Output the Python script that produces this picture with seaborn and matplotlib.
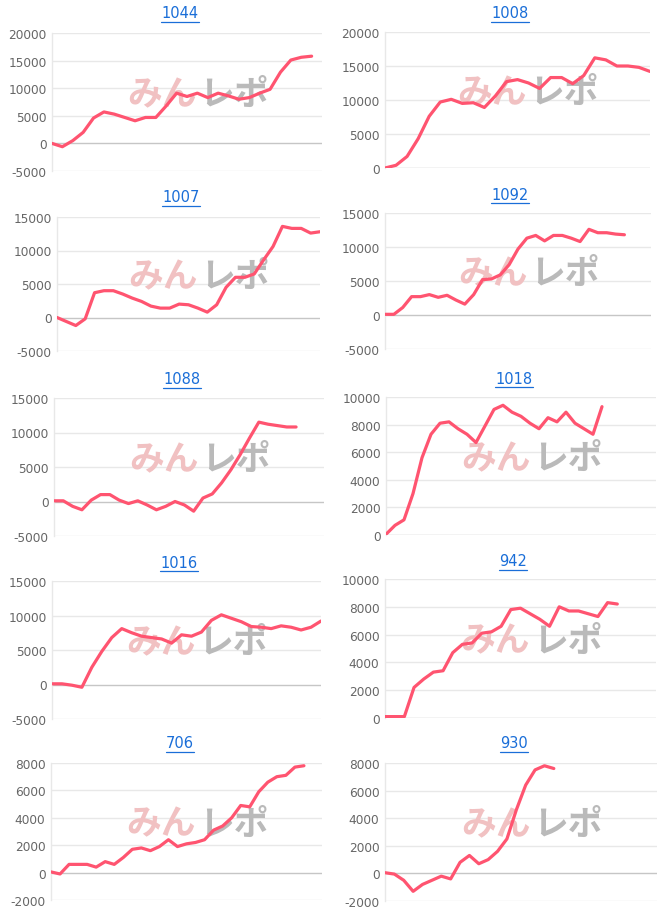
import numpy as np
import pandas as pd
import matplotlib
matplotlib.use("Agg")
import matplotlib.pyplot as plt
import seaborn as sns
from matplotlib.lines import Line2D

sns.set_theme(style="white")
plt.rcParams['font.family'] = ['DejaVu Sans', 'Noto Sans CJK JP']

# ---------------- data ----------------
titles = ["1044", "1008", "1007", "1092", "1088", "1018", "1016", "942", "706", "930"]
n_positions = [27, 25, 29, 31, 30, 31, 28, 29, 31, 30]

s1044 = [0, -600, 500, 2000, 4600, 5700, 5300, 4700, 4100, 4700, 4700, 6800, 9100,
         8500, 9100, 8300, 9100, 8600, 8000, 8300, 9100, 9800, 12900, 15100, 15600, 15800]
s1008 = [0, 400, 1700, 4300, 7600, 9700, 10100, 9500, 9600, 8900, 10600, 12700, 13000,
         12500, 11700, 13300, 13300, 12400, 13600, 16200, 15900, 15000, 15000, 14800, 14200]
s1007 = [0, -600, -1200, -200, 3700, 4000, 4000, 3500, 2900, 2400, 1700, 1400, 1400, 2000,
         1900, 1400, 800, 1900, 4500, 6000, 6000, 6500, 8600, 10600, 13600, 13300, 13300,
         12600, 12800]
s1092 = [100, 100, 1100, 2700, 2700, 3000, 2600, 2900, 2200, 1600, 3000, 5200, 5300, 5900,
         7400, 9700, 11300, 11700, 10900, 11700, 11700, 11300, 10800, 12600, 12100, 12100,
         11900, 11800]
s1088 = [100, 100, -700, -1200, 200, 1000, 1000, 200, -300, 100, -500, -1200, -700, 0, -500,
         -1400, 500, 1100, 2700, 4600, 6800, 9200, 11500, 11200, 11000, 10800, 10800]
s1018 = [50, 700, 1100, 3000, 5600, 7300, 8100, 8200, 7700, 7300, 6700, 7900, 9100, 9400,
         8900, 8600, 8100, 7700, 8500, 8200, 8900, 8100, 7700, 7300, 9300]
s1016 = [100, 100, -100, -400, 2500, 4800, 6800, 8100, 7500, 7000, 6800, 6600, 6000, 7200,
         7000, 7600, 9300, 10100, 9600, 9100, 8400, 8300, 8100, 8500, 8300, 7900, 8300, 9200]
s942 = [100, 100, 100, 2200, 2800, 3300, 3400, 4700, 5300, 5400, 6100, 6200, 6600, 7800,
        7900, 7500, 7100, 6600, 8000, 7700, 7700, 7500, 7300, 8300, 8200]
s706 = [50, -100, 600, 600, 600, 400, 800, 600, 1100, 1700, 1800, 1600, 1900, 2400, 1900,
        2100, 2200, 2400, 3100, 3400, 4000, 4900, 4800, 5900, 6600, 7000, 7100, 7700, 7800]
s930 = [50, -50, -500, -1300, -800, -500, -200, -400, 800, 1300, 700, 1000, 1600, 2500,
        4600, 6400, 7500, 7800, 7600]

series = [s1044, s1008, s1007, s1092, s1088, s1018, s1016, s942, s706, s930]
y_ranges = [(-5000, 20000, 5000), (0, 20000, 5000), (-5000, 15000, 5000),
            (-5000, 15000, 5000), (-5000, 15000, 5000), (0, 10000, 2000),
            (-5000, 15000, 5000), (0, 10000, 2000), (-2000, 8000, 2000),
            (-2000, 8000, 2000)]

# ---------------- layout (pixels) ----------------
W, H = 666, 912
boxes = [(52, 34, 322, 172), (385, 33, 650, 169),
         (57, 218, 320, 352), (385, 214, 651, 350),
         (54, 399, 324, 537), (386, 398, 656, 536),
         (52, 582, 321, 720), (385, 580, 656, 719),
         (51, 764, 322, 901), (385, 764, 657, 902)]
title_pos = [(180, 14), (510, 14), (181, 198), (510, 195), (182, 380),
             (514, 379), (179, 563), (513, 562), (180, 744), (514, 744)]

LINE_COLOR = "#ff5470"
GRID = "#e8e8e8"
ZERO = "#c6c6c6"
LINK = "#1a6ed8"

fig = plt.figure(figsize=(W / 100, H / 100), dpi=100)
fig.patch.set_facecolor("white")

title_texts = []
for i, (t, n, vals, (lo, hi, step), (l, tp, r, b), (tx, ty)) in enumerate(
        zip(titles, n_positions, series, y_ranges, boxes, title_pos)):
    ax = fig.add_axes([l / W, 1 - b / H, (r - l) / W, (b - tp) / H])
    df = pd.DataFrame({"x": np.arange(len(vals)), "y": vals})
    sns.lineplot(data=df, x="x", y="y", ax=ax, color=LINE_COLOR, linewidth=2.3,
                 zorder=5, solid_joinstyle="round", solid_capstyle="round")
    ax.set_xlim(0, n - 1)
    ax.set_ylim(lo, hi)
    ticks = np.arange(lo, hi + step, step)
    ax.set_yticks(ticks)
    ax.set_yticklabels([f"{v:d}" for v in ticks], fontsize=8.7, color="#666666")
    ax.tick_params(axis="y", length=0, pad=4)
    ax.set_xticks([])
    ax.set_xlabel("")
    ax.set_ylabel("")
    for yv in ticks:
        ax.axhline(yv, color=ZERO if yv == 0 else GRID, linewidth=1.0, zorder=1)
    for s in ["top", "right", "bottom"]:
        ax.spines[s].set_visible(False)
    ax.spines["left"].set_color(GRID)
    ax.spines["left"].set_linewidth(1.0)
    ax.set_facecolor("white")
    # watermark
    ax.text(0.535, 0.56, "みん", transform=ax.transAxes, ha="right", va="center",
            fontsize=25, fontweight="bold", color="#f1c1c2",
            family=["Noto Sans CJK JP"], zorder=2)
    ax.text(0.545, 0.56, "レポ", transform=ax.transAxes, ha="left", va="center",
            fontsize=25, fontweight="bold", color="#bababa",
            family=["Noto Sans CJK JP"], zorder=2)
    tt = fig.text(tx / W, 1 - ty / H, t, ha="center", va="center", fontsize=10.5,
                  color=LINK)
    title_texts.append(tt)

# underline the link-style titles
fig.canvas.draw()
renderer = fig.canvas.get_renderer()
for tt in title_texts:
    bb = tt.get_window_extent(renderer=renderer)
    y = (bb.y0 - 1.5) / H
    fig.add_artist(Line2D([bb.x0 / W, bb.x1 / W], [y, y], color=LINK, linewidth=0.9))

fig.savefig("out.png", dpi=100, facecolor="white")
